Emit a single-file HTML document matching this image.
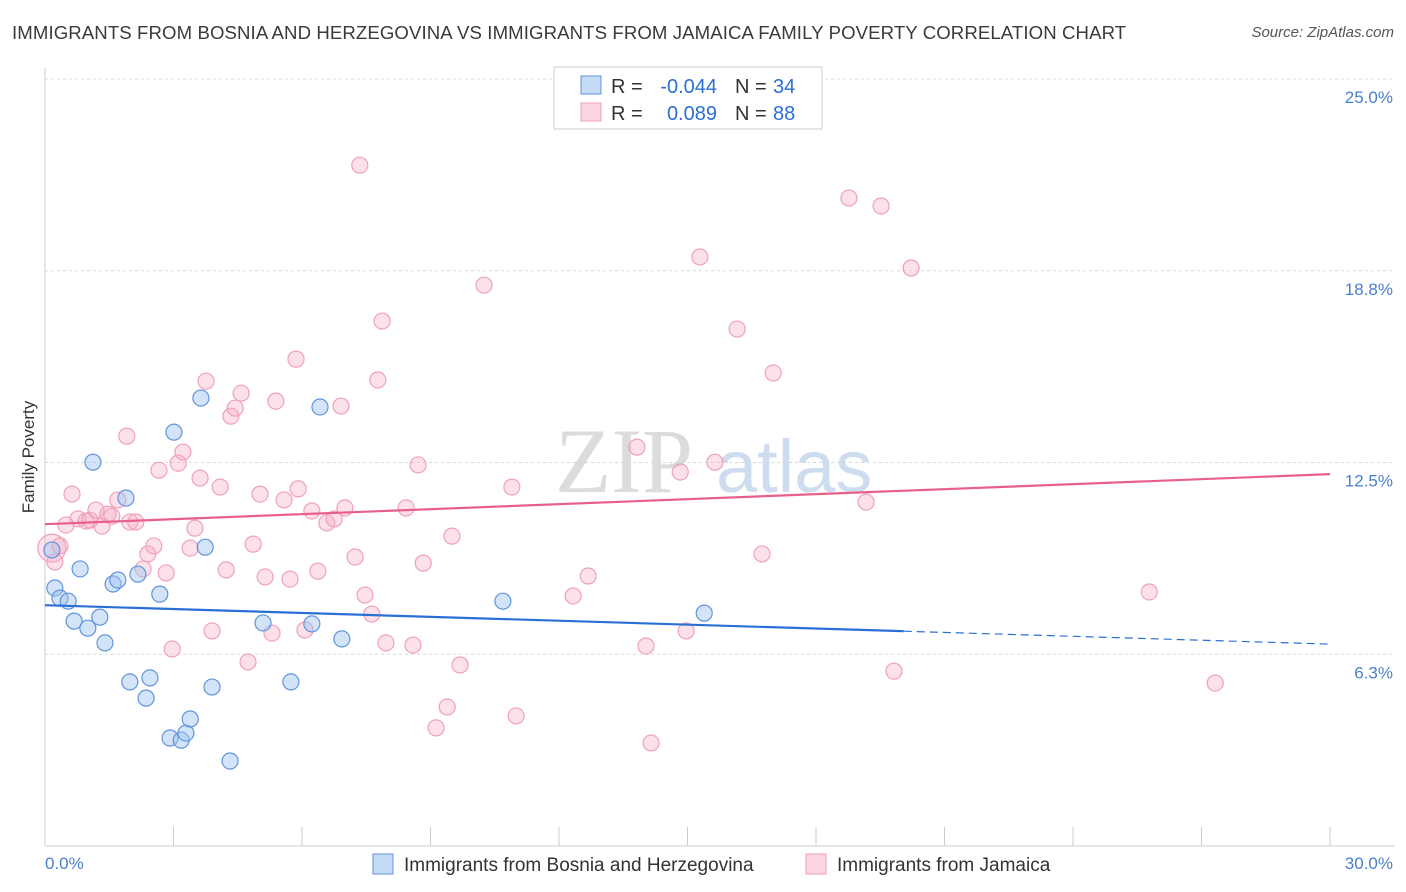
<!DOCTYPE html>
<html><head><meta charset="utf-8">
<style>
body{margin:0;background:#fff;font-family:"Liberation Sans",sans-serif;}
#wrap{position:relative;width:1406px;height:892px;overflow:hidden;}
.title{position:absolute;left:12px;top:22px;font-size:18.6px;color:#3a3a3a;letter-spacing:0.1px;white-space:nowrap;}
.source{position:absolute;right:12px;top:24px;font-size:15px;color:#555;font-style:italic;}
</style></head><body>
<div id="wrap">
<div class="title">IMMIGRANTS FROM BOSNIA AND HERZEGOVINA VS IMMIGRANTS FROM JAMAICA FAMILY POVERTY CORRELATION CHART</div>
<div class="source">Source: ZipAtlas.com</div>
<svg id="chart" width="1406" height="892" style="position:absolute;left:0;top:0"></svg>
</div>
<script>
const blueX=[0.16,0.23,0.35,0.54,0.68,0.82,1.00,1.12,1.28,1.40,1.59,1.70,1.89,1.98,2.17,2.36,2.45,2.68,2.92,3.01,3.18,3.29,3.39,3.64,3.74,3.90,4.32,5.09,5.74,6.23,6.42,6.93,10.69,15.39];
const blueY=[9.65,8.41,8.08,7.98,7.33,9.03,7.10,12.51,7.46,6.62,8.54,8.67,11.34,5.35,8.86,4.82,5.48,8.21,3.52,13.49,3.45,3.68,4.14,14.60,9.74,5.18,2.77,7.27,5.35,7.24,14.31,6.75,7.98,7.59];
const pinkX=[0.16,0.23,0.35,0.49,0.63,0.77,0.96,1.05,1.19,1.33,1.47,1.56,1.70,1.91,1.98,2.12,2.29,2.40,2.54,2.66,2.83,2.97,3.11,3.22,3.39,3.50,3.62,3.76,3.90,4.09,4.23,4.34,4.44,4.58,4.74,4.86,5.02,5.14,5.30,5.39,5.58,5.72,5.86,5.91,6.07,6.23,6.37,6.58,6.75,6.91,7.00,7.24,7.35,7.47,7.63,7.77,7.87,7.96,8.43,8.59,8.71,8.83,9.13,9.39,9.50,9.69,10.25,10.90,11.00,12.33,12.68,13.82,14.03,14.15,14.83,14.97,15.29,15.64,16.16,16.74,17.00,18.77,19.17,19.52,19.82,20.22,25.78,27.32];
const pinkY=[9.71,9.26,9.78,10.46,11.47,10.66,10.59,10.62,10.95,10.43,10.82,10.75,11.28,13.36,10.56,10.56,9.03,9.52,9.78,12.25,8.90,6.42,12.48,12.84,9.71,10.36,11.99,15.15,7.01,11.70,9.00,14.01,14.27,14.76,6.00,9.84,11.47,8.77,6.94,14.50,11.28,8.70,15.87,11.64,7.04,10.92,8.96,10.53,10.66,14.34,11.02,9.42,22.19,8.18,7.56,15.19,17.11,6.62,11.02,6.55,12.42,9.22,3.85,4.53,10.10,5.90,18.28,11.70,4.24,8.15,8.80,13.00,6.52,3.36,12.19,7.01,19.20,12.51,16.85,9.52,15.42,21.12,11.21,20.86,5.70,18.84,8.28,5.31];
const yTicks=[6.25,12.5,18.75,25];
const yTickLabels=["6.3%","12.5%","18.8%","25.0%"];
const blueTrend=[7.85,6.58];
const pinkTrend=[10.49,12.12];
const blueSolidEnd=20.05;

const X0=45,X1=1330,Y0=846,Y25=79;
const sx=v=>X0+(v/30)*(X1-X0);
const sy=v=>Y0-(v/25)*(Y0-Y25);
const svg=document.getElementById('chart');
const NS='http://www.w3.org/2000/svg';
function mk(tag,attrs,parent){const e=document.createElementNS(NS,tag);for(const k in attrs)e.setAttribute(k,attrs[k]);(parent||svg).appendChild(e);return e;}

let wm=mk('text',{x:555,y:492,'font-size':92,'font-family':'Liberation Serif, serif',fill:'#dcdcdc'});
wm.textContent='ZIP';


let wm2=mk('text',{x:716,y:492,'font-size':74,'font-family':'Liberation Sans, sans-serif',fill:'#cddcef'});
wm2.textContent='atlas';



yTicks.forEach((t,i)=>{
  let g=mk('line',{x1:X0,x2:1395,y1:sy(t),y2:sy(t),stroke:'#d8d8d8','stroke-dasharray':'3,3'});
  
  
  let l=mk('text',{x:1393,y:sy(t)+24,'text-anchor':'end','font-size':17,fill:'#4a7fd0'});
  l.textContent=yTickLabels[i];
  
  
});
let ya=mk('line',{x1:X0,x2:X0,y1:68,y2:Y0,stroke:'#cccccc'});


let xa=mk('line',{x1:X0,x2:1395,y1:Y0,y2:Y0,stroke:'#cccccc'});


for(let i=0;i<=10;i++){
  let t=mk('line',{x1:sx(i*3),x2:sx(i*3),y1:827,y2:Y0,stroke:'#cccccc'});
  
  
}
let xl0=mk('text',{x:45,y:869,'font-size':17,fill:'#4a7fd0'});xl0.textContent='0.0%';


let xl1=mk('text',{x:1393,y:869,'font-size':17,fill:'#4a7fd0','text-anchor':'end'});xl1.textContent='30.0%';


let yt=mk('text',{x:34,y:457,'font-size':17,fill:'#333','text-anchor':'middle',transform:'rotate(-90 34 457)'});yt.textContent='Family Poverty';



pinkX.forEach((x,i)=>{
  let c=mk('circle',{cx:sx(x),cy:sy(pinkY[i]),r:i==0?14:8,fill:'rgba(247,170,195,0.35)',stroke:'#f0a0bb','stroke-width':1.2});
  
  
});
blueX.forEach((x,i)=>{
  let c=mk('circle',{cx:sx(x),cy:sy(blueY[i]),r:8,fill:'rgba(160,195,240,0.45)',stroke:'#5f95dd','stroke-width':1.2});
  
  
});
let pt=mk('line',{x1:sx(0),y1:sy(pinkTrend[0]),x2:sx(30),y2:sy(pinkTrend[1]),stroke:'#e8608a','stroke-width':2.2});


const by=x=>blueTrend[0]+(blueTrend[1]-blueTrend[0])*x/30;
let bt=mk('line',{x1:sx(0),y1:sy(by(0)),x2:sx(blueSolidEnd),y2:sy(by(blueSolidEnd)),stroke:'#2a6fd6','stroke-width':2.2});


let bd=mk('line',{x1:sx(blueSolidEnd),y1:sy(by(blueSolidEnd)),x2:sx(30),y2:sy(by(30)),stroke:'#2a6fd6','stroke-width':1.2,'stroke-dasharray':'8,5'});



let lg=mk('g',{});


mk('rect',{x:554,y:67,width:268,height:62,fill:'#fff',stroke:'#cccccc'},lg);
mk('rect',{x:581,y:76,width:20,height:18,fill:'rgba(160,195,240,0.6)',stroke:'#5f95dd'},lg);
mk('rect',{x:581,y:103,width:20,height:18,fill:'rgba(247,170,195,0.5)',stroke:'#f0a0bb'},lg);
function lt(x,y,s,c,anchor){let t=mk('text',{x:x,y:y,'font-size':20,fill:c,'text-anchor':anchor||'start'},lg);t.textContent=s;return t;}
lt(611,93,'R =','#333');lt(717,93,'-0.044','#2a6fd6','end');lt(735,93,'N =','#333');lt(773,93,'34','#2a6fd6');
lt(611,120,'R =','#333');lt(717,120,'0.089','#2a6fd6','end');lt(735,120,'N =','#333');lt(773,120,'88','#2a6fd6');

let bl=mk('g',{});


mk('rect',{x:373,y:854,width:20,height:20,fill:'rgba(160,195,240,0.6)',stroke:'#5f95dd'},bl);
let t1=mk('text',{x:404,y:871,'font-size':19,fill:'#333'},bl);t1.textContent='Immigrants from Bosnia and Herzegovina';
mk('rect',{x:806,y:854,width:20,height:20,fill:'rgba(247,170,195,0.5)',stroke:'#f0a0bb'},bl);
let t2=mk('text',{x:837,y:871,'font-size':19,fill:'#333'},bl);t2.textContent='Immigrants from Jamaica';
</script>
</body></html>
